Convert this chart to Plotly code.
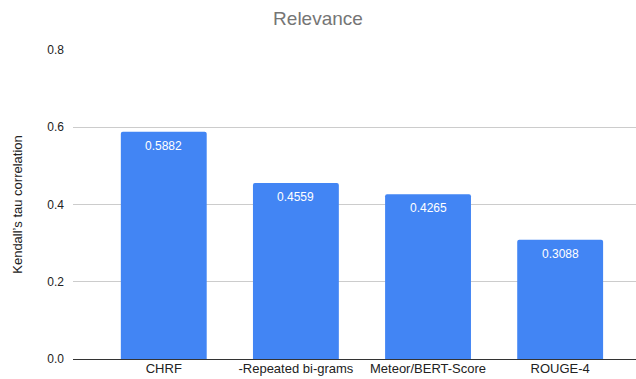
import plotly.graph_objects as go

# Metric names and their Kendall's tau correlation with human relevance ratings
metrics = ["CHRF", "-Repeated bi-grams", "Meteor/BERT-Score", "ROUGE-4"]
tau_values = [0.5882, 0.4559, 0.4265, 0.3088]
tau_labels = ["0.5882", "0.4559", "0.4265", "0.3088"]
y_ticks = [0.0, 0.2, 0.4, 0.6, 0.8]
y_tick_text = ["0.0", "0.2", "0.4", "0.6", "0.8"]

FONT = "Liberation Sans, Arial, sans-serif"

positions = list(range(len(metrics)))

fig = go.Figure(
    go.Bar(
        x=positions,
        y=tau_values,
        marker=dict(color="#4285F4", line=dict(width=0), cornerradius=2),
        width=0.65,
        hoverinfo="x+y",
    )
)

# Value labels just inside the top of each bar
for xpos, val, lab in zip(positions, tau_values, tau_labels):
    fig.add_annotation(
        x=xpos,
        y=val,
        text=lab,
        showarrow=False,
        yanchor="top",
        yshift=-5,
        font=dict(color="white", size=12, family=FONT),
    )

fig.update_layout(
    width=636,
    height=379,
    margin=dict(l=73, r=0, t=50, b=20),
    paper_bgcolor="white",
    plot_bgcolor="white",
    font=dict(family=FONT, size=12, color="#222222"),
    title=dict(
        text="Relevance",
        x=0.5,
        xanchor="center",
        y=1 - 18 / 379,
        yanchor="middle",
        font=dict(size=19, color="#757575", family=FONT),
    ),
    showlegend=False,
    bargap=0.35,
)

fig.update_xaxes(
    tickmode="array",
    tickvals=positions,
    ticktext=metrics,
    range=[-0.687, 3.574],
    showgrid=False,
    showline=False,
    ticks="",
    tickfont=dict(size=13, color="#222222"),
    zeroline=False,
)

fig.update_yaxes(
    range=[0, 0.8],
    tickmode="array",
    tickvals=y_ticks,
    ticktext=y_tick_text,
    showgrid=True,
    gridcolor="#cccccc",
    gridwidth=1,
    zeroline=True,
    zerolinecolor="#333333",
    zerolinewidth=1,
    ticks="",
    ticklabelstandoff=8,
    tickfont=dict(size=12, color="#222222"),
    title=dict(
        text="Kendall\u2019s tau correlation",
        font=dict(size=13, color="#222222"),
        standoff=21,
    ),
)

fig.write_html("out.html")
